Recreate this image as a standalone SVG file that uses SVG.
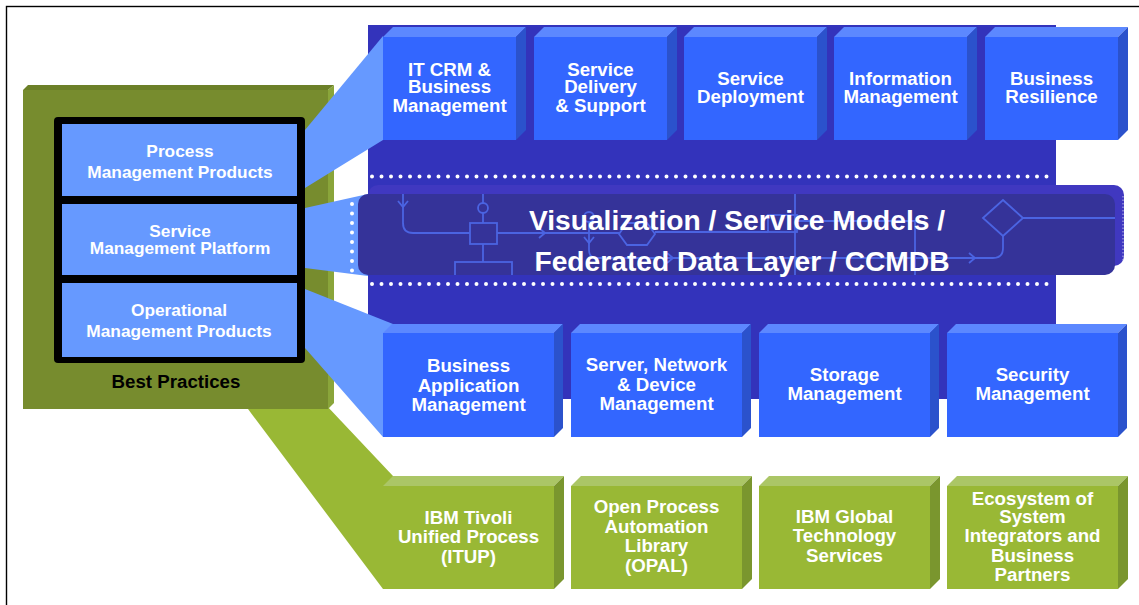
<svg xmlns="http://www.w3.org/2000/svg" width="1139" height="605" viewBox="0 0 1139 605">
  <defs>
    <style>
      .t { font-family: "Liberation Sans", Arial, Helvetica, sans-serif; font-weight: bold; fill: #ffffff; text-anchor: middle; }
      .tb { font-size: 18.7px; }
      .tl { font-size: 17.3px; }
      .tm { font-size: 28.2px; }
      .bf { fill: #3366ff; }
      .bt { fill: #5c88ff; }
      .bs { fill: #2b52cc; }
      .gf { fill: #99b835; }
      .gt { fill: #abc666; }
      .gs { fill: #7a962e; }
      .lb { fill: #6699ff; }
      .deco { fill: none; stroke: #4b64e2; stroke-width: 1.8; }
      .dots { fill: none; stroke: #ffffff; stroke-width: 4; stroke-linecap: round; stroke-dasharray: 0 9.5; }
    </style>
    <clipPath id="bandClip">
      <rect x="358" y="194" width="757" height="81" rx="10"/>
    </clipPath>
  </defs>

  <!-- page frame -->
  <rect x="6.5" y="6.5" width="1140" height="610" fill="#ffffff" stroke="#000000" stroke-width="1.4"/>

  <!-- dark blue backdrop -->
  <rect id="backdrop" x="368" y="25" width="688" height="374" fill="#3333bb"/>

  <!-- connectors: wedges from the left stack to the layers -->
  <g id="connectors">
    <polygon id="wedge-practices" class="gf" points="245,405 326,405 393,476 383,589"/>
  </g>

  <!-- best practices panel -->
  <g id="best-practices">
    <polygon points="23,90 28,85 334,85 328,90" fill="#6c8028"/>
    <polygon points="328,90 334,85 334,403 328,409" fill="#8aa53a"/>
    <rect x="23" y="90" width="305" height="319" fill="#778c2e"/>
    <text x="176" y="388.3" class="t" style="font-size:18.7px;fill:#000000">Best Practices</text>
  </g>

  <g id="connectors-blue">
    <polygon id="wedge-process" class="lb" points="305,130 383,36 383,140 305,188"/>
    <polygon id="wedge-platform" class="lb" points="305,208 368,194 368,276 305,268"/>
    <polygon id="wedge-operational" class="lb" points="305,289 393,324 383,437 305,348"/>
  </g>

  <!-- management stack -->
  <g id="stack">
    <rect x="54" y="117" width="251" height="246" rx="4" fill="#000000"/>
    <g id="process-products">
      <rect x="62" y="124" width="235" height="72" class="lb"/>
      <text class="t tl" x="180" y="157.3">Process</text>
      <text class="t tl" x="180" y="178.3">Management Products</text>
    </g>
    <g id="service-platform">
      <rect x="62" y="204" width="235" height="71" class="lb"/>
      <text class="t tl" x="180" y="237.3">Service</text>
      <text class="t tl" x="180" y="254">Management Platform</text>
    </g>
    <g id="operational-products">
      <rect x="62" y="283" width="235" height="74" class="lb"/>
      <text class="t tl" x="179" y="315.7">Operational</text>
      <text class="t tl" x="179" y="336.7">Management Products</text>
    </g>
  </g>

  <!-- dotted separators -->
  <line class="dots" x1="372" y1="176.5" x2="1053" y2="176.5"/>
  <line class="dots" x1="372" y1="284" x2="1053" y2="284"/>
  <line class="dots" x1="352" y1="204" x2="352" y2="272"/>

  <!-- visualization / CCMDB slab -->
  <g id="ccmdb">
    <rect x="368" y="185" width="756" height="81" rx="10" fill="#4038c0"/>
    <line x1="1123" y1="196" x2="1123" y2="262" stroke="#ffffff" stroke-opacity="0.45" stroke-width="1.5" stroke-dasharray="1.5 2"/>
    <rect x="358" y="194" width="757" height="81" rx="10" fill="#353399"/>
    <g clip-path="url(#bandClip)">
      <path class="deco" d="M403,194 V223 Q403,233 413,233 H470"/>
      <path class="deco" d="M398,201 L403,207 L408,201"/>
      <line class="deco" x1="483" y1="194" x2="483" y2="203"/>
      <circle class="deco" cx="483" cy="208" r="5"/>
      <line class="deco" x1="483" y1="213" x2="483" y2="223"/>
      <rect class="deco" x="470" y="223" width="27" height="21"/>
      <line class="deco" x1="483" y1="244" x2="483" y2="262"/>
      <rect class="deco" x="455" y="262" width="57" height="30"/>
      <line class="deco" x1="497" y1="233" x2="619" y2="233"/>
      <path class="deco" d="M539,228 L545,233 L539,238"/>
      <circle class="deco" cx="589" cy="217" r="5"/>
      <path class="deco" d="M589,222 V250 Q589,258 597,258 H993 Q1003,258 1003,248 V236"/>
      <path class="deco" d="M584,237 L589,243 L594,237"/>
      <path class="deco" d="M667,253 L673,258 L667,263"/>
      <path class="deco" d="M969,253 L975,258 L969,263"/>
      <polygon class="deco" points="619,234 627,223 647,223 655,234 647,245 627,245"/>
      <line class="deco" x1="655" y1="232" x2="768" y2="232"/>
      <rect class="deco" x="768" y="215" width="29" height="17"/>
      <line class="deco" x1="795" y1="194" x2="795" y2="275"/>
      <path class="deco" d="M797,221 H915 V275"/>
      <polygon class="deco" points="983,218 1003,200 1023,218 1003,236"/>
      <line class="deco" x1="1023" y1="218" x2="1115" y2="218"/>
    </g>
    <text class="t tm" x="737" y="230">Visualization / Service Models /</text>
    <text class="t tm" x="742" y="271">Federated Data Layer / CCMDB</text>
  </g>

  <!-- top layer: service management disciplines -->
  <g id="it-crm">
    <polygon class="bt" points="383,37 393,27 526,27 516,37"/>
    <polygon class="bs" points="516,37 526,27 526,130 516,140"/>
    <rect class="bf" x="383" y="37" width="133" height="103"/>
    <text class="t tb" x="449.5" y="75.7">IT CRM &amp;</text>
    <text class="t tb" x="449.5" y="93.3">Business</text>
    <text class="t tb" x="449.5" y="111.7">Management</text>
  </g>
  <g id="service-delivery">
    <polygon class="bt" points="534,37 544,27 677,27 667,37"/>
    <polygon class="bs" points="667,37 677,27 677,130 667,140"/>
    <rect class="bf" x="534" y="37" width="133" height="103"/>
    <text class="t tb" x="600.5" y="75.7">Service</text>
    <text class="t tb" x="600.5" y="93.3">Delivery</text>
    <text class="t tb" x="600.5" y="111.7">&amp; Support</text>
  </g>
  <g id="service-deployment">
    <polygon class="bt" points="684,37 694,27 827,27 817,37"/>
    <polygon class="bs" points="817,37 827,27 827,130 817,140"/>
    <rect class="bf" x="684" y="37" width="133" height="103"/>
    <text class="t tb" x="750.5" y="85">Service</text>
    <text class="t tb" x="750.5" y="103.3">Deployment</text>
  </g>
  <g id="information-management">
    <polygon class="bt" points="834,37 844,27 977,27 967,37"/>
    <polygon class="bs" points="967,37 977,27 977,130 967,140"/>
    <rect class="bf" x="834" y="37" width="133" height="103"/>
    <text class="t tb" x="900.5" y="85">Information</text>
    <text class="t tb" x="900.5" y="103.3">Management</text>
  </g>
  <g id="business-resilience">
    <polygon class="bt" points="985,37 995,27 1128,27 1118,37"/>
    <polygon class="bs" points="1118,37 1128,27 1128,130 1118,140"/>
    <rect class="bf" x="985" y="37" width="133" height="103"/>
    <text class="t tb" x="1051.5" y="85">Business</text>
    <text class="t tb" x="1051.5" y="103.3">Resilience</text>
  </g>

  <!-- bottom layer: operational management -->
  <g id="business-application">
    <polygon class="bt" points="383,333 392,324 563,324 554,333"/>
    <polygon class="bs" points="554,333 563,324 563,428 554,437"/>
    <rect class="bf" x="383" y="333" width="171" height="104"/>
    <text class="t tb" x="468.5" y="371.7">Business</text>
    <text class="t tb" x="468.5" y="391.7">Application</text>
    <text class="t tb" x="468.5" y="410.7">Management</text>
  </g>
  <g id="server-network">
    <polygon class="bt" points="571,333 580,324 751,324 742,333"/>
    <polygon class="bs" points="742,333 751,324 751,428 742,437"/>
    <rect class="bf" x="571" y="333" width="171" height="104"/>
    <text class="t tb" x="656.5" y="370.7">Server, Network</text>
    <text class="t tb" x="656.5" y="390.7">&amp; Device</text>
    <text class="t tb" x="656.5" y="410">Management</text>
  </g>
  <g id="storage-management">
    <polygon class="bt" points="759,333 768,324 939,324 930,333"/>
    <polygon class="bs" points="930,333 939,324 939,428 930,437"/>
    <rect class="bf" x="759" y="333" width="171" height="104"/>
    <text class="t tb" x="844.5" y="380.7">Storage</text>
    <text class="t tb" x="844.5" y="400">Management</text>
  </g>
  <g id="security-management">
    <polygon class="bt" points="947,333 956,324 1127,324 1118,333"/>
    <polygon class="bs" points="1118,333 1127,324 1127,428 1118,437"/>
    <rect class="bf" x="947" y="333" width="171" height="104"/>
    <text class="t tb" x="1032.5" y="380.7">Security</text>
    <text class="t tb" x="1032.5" y="400">Management</text>
  </g>

  <!-- practices layer -->
  <g id="itup">
    <polygon class="gt" points="383,486 393,476 564,476 554,486"/>
    <polygon class="gs" points="554,486 564,476 564,579 554,589"/>
    <rect class="gf" x="383" y="486" width="171" height="103"/>
    <text class="t tb" x="468.5" y="524.3">IBM Tivoli</text>
    <text class="t tb" x="468.5" y="543.3">Unified Process</text>
    <text class="t tb" x="468.5" y="563.3">(ITUP)</text>
  </g>
  <g id="opal">
    <polygon class="gt" points="571,486 581,476 752,476 742,486"/>
    <polygon class="gs" points="742,486 752,476 752,579 742,589"/>
    <rect class="gf" x="571" y="486" width="171" height="103"/>
    <text class="t tb" x="656.5" y="513.3">Open Process</text>
    <text class="t tb" x="656.5" y="532.7">Automation</text>
    <text class="t tb" x="656.5" y="552.3">Library</text>
    <text class="t tb" x="656.5" y="572.3">(OPAL)</text>
  </g>
  <g id="global-technology-services">
    <polygon class="gt" points="759,486 769,476 940,476 930,486"/>
    <polygon class="gs" points="930,486 940,476 940,579 930,589"/>
    <rect class="gf" x="759" y="486" width="171" height="103"/>
    <text class="t tb" x="844.5" y="523.3">IBM Global</text>
    <text class="t tb" x="844.5" y="542.3">Technology</text>
    <text class="t tb" x="844.5" y="561.7">Services</text>
  </g>
  <g id="ecosystem">
    <polygon class="gt" points="947,486 957,476 1128,476 1118,486"/>
    <polygon class="gs" points="1118,486 1128,476 1128,579 1118,589"/>
    <rect class="gf" x="947" y="486" width="171" height="103"/>
    <text class="t tb" x="1032.5" y="505">Ecosystem of</text>
    <text class="t tb" x="1032.5" y="523.3">System</text>
    <text class="t tb" x="1032.5" y="542.3">Integrators and</text>
    <text class="t tb" x="1032.5" y="561.7">Business</text>
    <text class="t tb" x="1032.5" y="580.7">Partners</text>
  </g>
</svg>
